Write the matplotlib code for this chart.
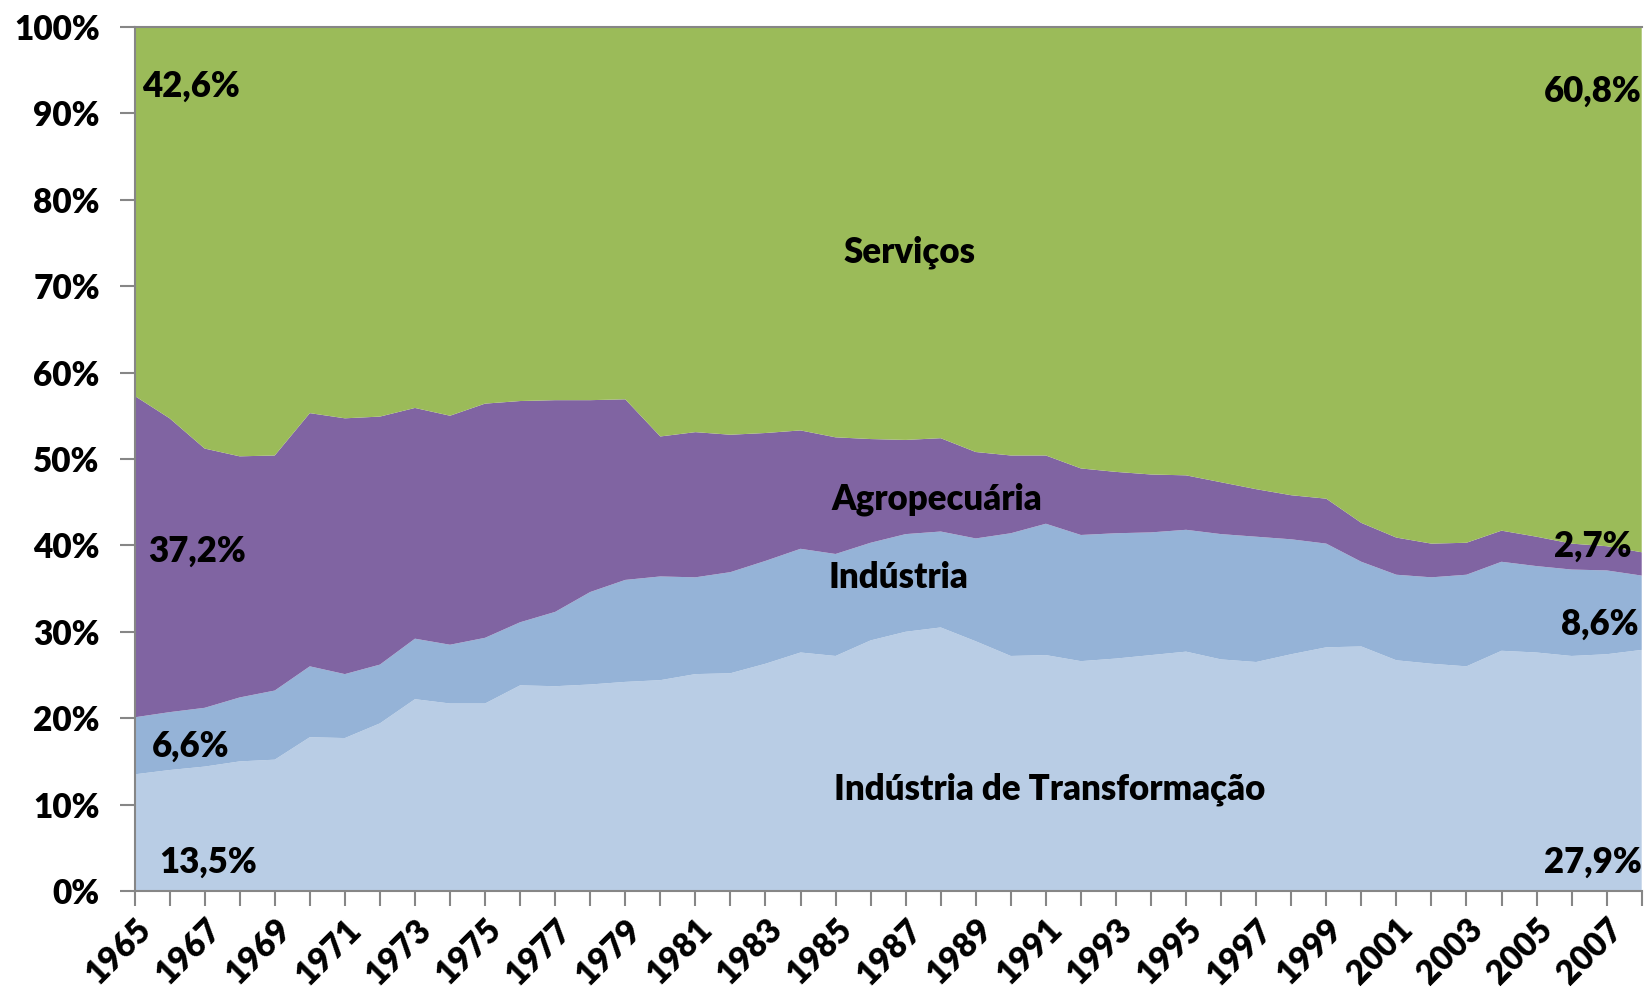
import matplotlib
matplotlib.use("Agg")
import matplotlib.pyplot as plt
from matplotlib.ticker import MultipleLocator, FuncFormatter
import numpy as np

# Composição setorial do PIB (% do total), 1965-2008
years = list(range(1965, 2009))

transformacao = [13.5, 14.0, 14.4, 15.0, 15.2, 17.8, 17.7, 19.4, 22.2, 21.7,
                 21.7, 23.8, 23.7, 23.9, 24.2, 24.4, 25.1, 25.2, 26.3, 27.6,
                 27.2, 29.0, 30.0, 30.5, 28.9, 27.2, 27.3, 26.6, 26.9, 27.3,
                 27.7, 26.8, 26.5, 27.4, 28.2, 28.3, 26.7, 26.3, 26.0, 27.8,
                 27.6, 27.2, 27.4, 27.9]
industria = [6.6, 6.7, 6.8, 7.4, 8.0, 8.2, 7.4, 6.8, 7.0, 6.8,
             7.6, 7.3, 8.6, 10.7, 11.8, 12.0, 11.2, 11.7, 11.9, 12.0,
             11.8, 11.3, 11.3, 11.1, 11.9, 14.2, 15.2, 14.6, 14.5, 14.2,
             14.1, 14.5, 14.5, 13.3, 12.0, 9.8, 9.9, 10.0, 10.6, 10.3,
             10.0, 10.0, 9.7, 8.6]
agropecuaria = [37.2, 34.0, 30.0, 27.9, 27.2, 29.3, 29.6, 28.7, 26.7, 26.5,
                27.1, 25.6, 24.5, 22.2, 20.9, 16.2, 16.8, 15.9, 14.8, 13.7,
                13.5, 12.0, 10.9, 10.8, 10.0, 9.0, 7.9, 7.7, 7.1, 6.7,
                6.3, 6.0, 5.5, 5.1, 5.2, 4.5, 4.3, 3.9, 3.7, 3.6,
                3.4, 3.0, 2.8, 2.7]
servicos = [42.7, 45.3, 48.8, 49.7, 49.6, 44.7, 45.3, 45.1, 44.1, 45.0,
            43.6, 43.3, 43.2, 43.2, 43.1, 47.4, 46.9, 47.2, 47.0, 46.7,
            47.5, 47.7, 47.8, 47.6, 49.2, 49.6, 49.6, 51.1, 51.5, 51.8,
            51.9, 52.7, 53.5, 54.2, 54.6, 57.4, 59.1, 59.8, 59.7, 58.3,
            59.0, 59.8, 60.1, 60.8]

colors = ['#B9CDE5', '#95B3D7', '#8064A2', '#9BBB59']

plt.rcParams['font.family'] = ['Lato', 'DejaVu Sans']
plt.rcParams['font.weight'] = 'heavy'

fig = plt.figure(figsize=(16.45, 9.94), dpi=100)
ax = fig.add_axes([0.0818, 0.1036, 0.9162, 0.8694])

ax.stackplot(years, transformacao, industria, agropecuaria, servicos,
             colors=colors, linewidth=0)

ax.set_xlim(years[0], years[-1])
ax.set_ylim(0, 100)

# axes look
ax.spines['right'].set_visible(False)
for side in ['left', 'bottom', 'top']:
    ax.spines[side].set_color('#868686')
    ax.spines[side].set_linewidth(1.5)

ax.yaxis.set_major_locator(MultipleLocator(10))
ax.yaxis.set_major_formatter(FuncFormatter(lambda v, p: f'{v:.0f}%'))
ax.xaxis.set_minor_locator(MultipleLocator(1))
ax.tick_params(axis='both', which='both', direction='out', color='#868686',
               width=1.5, labelsize=24)
ax.tick_params(axis='y', length=11, pad=14)
ax.tick_params(axis='x', which='both', length=11, pad=5)
ax.set_xticks(years[::2])
ax.set_xticklabels([str(y) for y in years[::2]], rotation=45, ha='right',
                   rotation_mode='anchor')
for lbl in ax.get_xticklabels() + ax.get_yticklabels():
    lbl.set_fontweight('heavy')

# value labels at both ends
fs = 25
kw = dict(fontsize=fs, fontweight='heavy', va='center')
ax.text(1965.2, 93.1, '42,6%', ha='left', **kw)
ax.text(1965.4, 39.3, '37,2%', ha='left', **kw)
ax.text(1965.5, 16.7, '6,6%', ha='left', **kw)
ax.text(1965.7, 3.3, '13,5%', ha='left', **kw)
ax.text(2008, 92.6, '60,8%', ha='right', **kw)
ax.text(2007.7, 39.9, '2,7%', ha='right', **kw)
ax.text(2007.9, 30.9, '8,6%', ha='right', **kw)
ax.text(2008, 3.3, '27,9%', ha='right', **kw)

# sector names
ax.text(1987.1, 73.9, 'Serviços', ha='center', **kw)
ax.text(1987.9, 45.3, 'Agropecuária', ha='center', **kw)
ax.text(1986.8, 36.3, 'Indústria', ha='center', **kw)
ax.text(1991.1, 11.8, 'Indústria de Transformação', ha='center', **kw)

fig.savefig('out.png', dpi=100)
